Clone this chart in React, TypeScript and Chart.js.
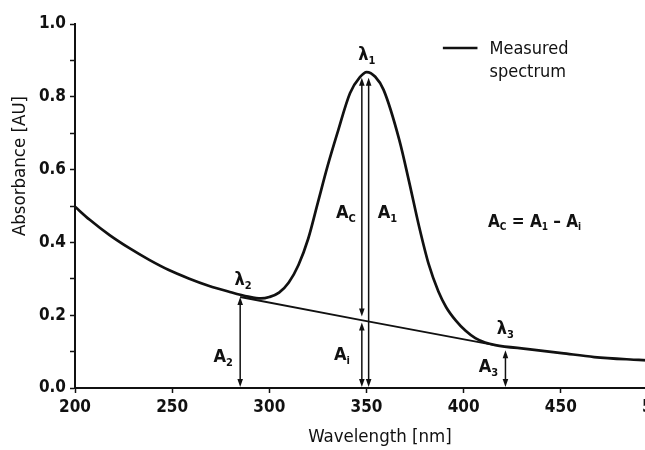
import React, { useEffect, useRef } from 'react';
import { Chart, registerables } from 'chart.js';
Chart.register(...registerables);

const FONT = "'DejaVu Sans Condensed', 'Liberation Sans Narrow', 'DejaVu Sans', sans-serif";

// Measured spectrum
const wavelengths = [200, 207.6, 217.8, 228, 238.2, 248.3, 258.5, 268.7, 278.9, 289.1, 295.7, 300, 305, 310, 315, 320, 325, 330, 335, 341.5, 346.6, 350.1, 354.5, 358.8, 366.9, 372, 377, 382, 387, 391, 396, 401, 406, 411, 416.3, 433.1, 450.4, 467.2, 490.1, 500];
const absorbance = [0.498, 0.462, 0.42, 0.384, 0.352, 0.324, 0.301, 0.281, 0.265, 0.251, 0.246, 0.25, 0.262, 0.29, 0.338, 0.41, 0.51, 0.61, 0.7, 0.81, 0.854, 0.868, 0.855, 0.819, 0.681, 0.565, 0.445, 0.34, 0.265, 0.222, 0.185, 0.157, 0.137, 0.125, 0.118, 0.107, 0.096, 0.085, 0.077, 0.074];

// Baseline between λ2 and λ3
const baselineX = [285, 348, 416];
const baselineY = [0.25, 0.186, 0.118];

// Vertical double arrows
const arrowX = [285, 347.6, 347.6, 351.1, 421.5];
const arrowFrom = [0, 0, 0.194, 0, 0];
const arrowTo = [0.25, 0.18, 0.852, 0.852, 0.104];

// Labels (main text, subscript, x, y)
const labelMain = ['λ', 'λ', 'λ', 'A', 'A', 'A', 'A', 'A'];
const labelSub = ['1', '2', '3', 'C', '1', '2', 'i', '3'];
const labelX = [350.1, 286.5, 421.4, 339.4, 360.8, 276.3, 337.4, 412.7];
const labelY = [0.915, 0.297, 0.16, 0.48, 0.48, 0.085, 0.09, 0.058];

const formulaParts = [['A', 'C'], [' = ', ''], ['A', '1'], [' – ', ''], ['A', 'i']];
const formulaPos = [436.5, 0.455];

const legendLines = ['Measured', 'spectrum'];

const xTitle = 'Wavelength [nm]';
const yTitle = 'Absorbance [AU]';

function drawArrowHead(ctx: CanvasRenderingContext2D, x: number, y: number, dir: number) {
  ctx.beginPath();
  ctx.moveTo(x, y);
  ctx.lineTo(x - 2.8, y - dir * 8);
  ctx.lineTo(x + 2.8, y - dir * 8);
  ctx.closePath();
  ctx.fill();
}

function measureParts(ctx: CanvasRenderingContext2D, parts: string[][], size: number, weight: string) {
  let w = 0;
  for (const [m, s] of parts) {
    ctx.font = `${weight} ${size}px ${FONT}`;
    w += ctx.measureText(m).width;
    ctx.font = `bold ${Math.round(size * 0.6)}px ${FONT}`;
    w += ctx.measureText(s).width;
  }
  return w;
}

function drawParts(ctx: CanvasRenderingContext2D, parts: string[][], cx: number, cy: number, size: number, weight = 'bold') {
  const total = measureParts(ctx, parts, size, weight);
  let x = cx - total / 2;
  ctx.textAlign = 'left';
  ctx.textBaseline = 'middle';
  for (const [m, s] of parts) {
    ctx.font = `${weight} ${size}px ${FONT}`;
    ctx.fillText(m, x, cy);
    x += ctx.measureText(m).width;
    ctx.font = `bold ${Math.round(size * 0.6)}px ${FONT}`;
    ctx.fillText(s, x, cy + size * 0.32);
    x += ctx.measureText(s).width;
  }
}

const annotations = {
  id: 'annotations',
  afterDatasetsDraw(chart: any) {
    const { ctx, scales } = chart;
    const xs = scales.x;
    const ys = scales.y;
    ctx.save();
    ctx.strokeStyle = '#111';
    ctx.fillStyle = '#111';
    ctx.lineWidth = 1.5;
    for (let i = 0; i < arrowX.length; i++) {
      const px = xs.getPixelForValue(arrowX[i]);
      const p0 = ys.getPixelForValue(arrowFrom[i]) - 1;
      const p1 = ys.getPixelForValue(arrowTo[i]);
      ctx.beginPath();
      ctx.moveTo(px, p0 - 4);
      ctx.lineTo(px, p1 + 4);
      ctx.stroke();
      drawArrowHead(ctx, px, p0, 1);
      drawArrowHead(ctx, px, p1, -1);
    }
    for (let i = 0; i < labelMain.length; i++) {
      const px = xs.getPixelForValue(labelX[i]);
      const py = ys.getPixelForValue(labelY[i]);
      drawParts(ctx, [[labelMain[i], labelSub[i]]], px, py, 18, 'bold');
    }
    drawParts(ctx, formulaParts, xs.getPixelForValue(formulaPos[0]), ys.getPixelForValue(formulaPos[1]), 17);

    // legend
    const lx0 = xs.getPixelForValue(389.3);
    const lx1 = xs.getPixelForValue(407.1);
    const ly = ys.getPixelForValue(0.934);
    ctx.lineWidth = 2.6;
    ctx.beginPath();
    ctx.moveTo(lx0, ly);
    ctx.lineTo(lx1, ly);
    ctx.stroke();
    ctx.font = `18px ${FONT}`;
    ctx.textAlign = 'left';
    ctx.textBaseline = 'middle';
    ctx.fillText(legendLines[0], lx1 + 12, ly + 1);
    ctx.fillText(legendLines[1], lx1 + 12, ly + 24);

    // axis titles
    ctx.font = `18.5px ${FONT}`;
    ctx.textAlign = 'center';
    ctx.fillText(xTitle, 380, 437);
    ctx.translate(20, 166);
    ctx.rotate(-Math.PI / 2);
    ctx.fillText(yTitle, 0, 0);
    ctx.restore();
  },
};

export default function App() {
  const ref = useRef<HTMLCanvasElement>(null);
  useEffect(() => {
    document.body.style.margin = '0';
    const chart = new Chart(ref.current!, {
      type: 'line',
      data: {
        datasets: [
          {
            label: 'Measured spectrum',
            data: wavelengths.map((x, i) => ({ x, y: absorbance[i] })),
            borderColor: '#111',
            borderWidth: 2.7,
            pointRadius: 0,
            cubicInterpolationMode: 'monotone',
            fill: false,
          },
          {
            label: 'Baseline',
            data: baselineX.map((x, i) => ({ x, y: baselineY[i] })),
            borderColor: '#111',
            borderWidth: 1.8,
            pointRadius: 0,
            tension: 0,
            fill: false,
          },
        ],
      },
      options: {
        animation: false,
        responsive: false,
        layout: { padding: { top: 24, right: 22, left: 0, bottom: 0 } },
        plugins: { legend: { display: false }, tooltip: { enabled: false } },
        scales: {
          x: {
            type: 'linear',
            min: 200,
            max: 500,
            ticks: { stepSize: 50, color: '#111', font: { family: FONT, size: 17, weight: 'bold' }, padding: 4, maxRotation: 0 },
            grid: { drawOnChartArea: false, tickLength: 5, tickColor: '#111', tickWidth: 1.5 },
            border: { color: '#111', width: 2 },
            afterFit: (s: any) => { s.height = 62; },
          },
          y: {
            min: 0,
            max: 1,
            ticks: {
              stepSize: 0.1,
              color: '#111',
              font: { family: FONT, size: 17, weight: 'bold' },
              padding: 4,
              callback: (v: any) => (Math.round(v * 10) % 2 === 0 ? Number(v).toFixed(1) : ''),
            },
            grid: { drawOnChartArea: false, tickLength: 5, tickColor: '#111', tickWidth: 1.5 },
            border: { color: '#111', width: 2 },
            afterFit: (s: any) => { s.width = 75; },
          },
        },
      } as any,
      plugins: [annotations],
    });
    return () => chart.destroy();
  }, []);
  return (
    <div style={{ position: 'fixed', left: 0, top: 0, width: 645, height: 450, overflow: 'hidden', background: '#fff' }}>
      <canvas ref={ref} width={680} height={450} />
    </div>
  );
}
